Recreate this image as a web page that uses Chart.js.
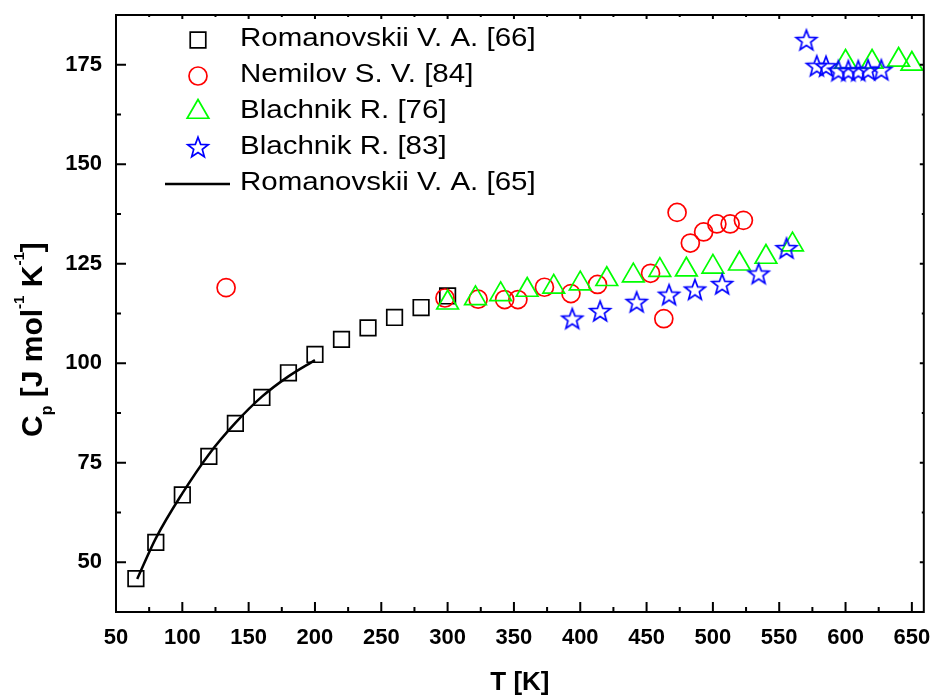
<!DOCTYPE html>
<html>
<head>
<meta charset="utf-8">
<title>Cp vs T</title>
<script src="https://cdn.jsdelivr.net/npm/chart.js@4.4.1/dist/chart.umd.min.js"></script>
<style>
  html, body { margin: 0; padding: 0; background: #fff; }
  #wrap { width: 938px; height: 700px; position: relative; }
</style>
</head>
<body>
<div id="wrap"><canvas id="cp-chart"></canvas></div>
<script>
// ============ DATA ============
const tempTicks = [50, 100, 150, 200, 250, 300, 350, 400, 450, 500, 550, 600, 650];
const cpTicks = [50, 75, 100, 125, 150, 175];

const seriesNames = ['Romanovskii V. A. [66]', 'Nemilov S. V. [84]', 'Blachnik R. [76]', 'Blachnik R. [83]', 'Romanovskii V. A. [65]'];

// Romanovskii V. A. [66] - squares
const romT = [65, 80, 100, 120, 140, 160, 180, 200, 220, 240, 260, 280, 300];
const romCp = [45.9, 55.0, 66.9, 76.6, 84.9, 91.4, 97.6, 102.2, 106.0, 108.9, 111.5, 114.0, 116.9];

// Nemilov S. V. [84] - circles
const nemT = [133, 298, 323, 343, 353, 373, 393, 413, 453, 463, 473, 483, 493, 503, 513, 523];
const nemCp = [119.0, 116.4, 116.1, 116.0, 116.0, 119.1, 117.5, 119.8, 122.6, 111.2, 137.9, 130.2, 133.0, 135.0, 135.0, 135.9];

// Blachnik R. [76] - triangles
const bl76T = [300, 321, 340, 360, 380, 400, 420, 440, 460, 480, 500, 520, 540, 560, 600, 620, 640, 650];
const bl76Cp = [115.2, 116.3, 117.3, 118.4, 119.2, 120.0, 121.1, 122.0, 123.4, 123.5, 124.2, 125.0, 126.7, 129.8, 175.7, 175.7, 176.2, 175.2];

// Blachnik R. [83] - stars
const bl83T = [394, 415, 442.5, 467, 486.5, 507, 534.5, 555.5, 570.5, 578.3, 585.3, 594.6, 602.1, 609.6, 617, 627];
const bl83Cp = [111.0, 112.9, 115.2, 117.0, 118.3, 119.7, 122.3, 128.7, 181.0, 174.5, 174.4, 173.3, 173.3, 173.3, 173.5, 173.5];

// Romanovskii V. A. [65] - fitted curve
const fitT = [66, 80, 100, 120, 140, 160, 180, 200];
const fitCp = [45.8, 56.0, 67.3, 77.1, 85.0, 91.6, 96.7, 100.8];

const FONT = '"Liberation Sans", Arial, Helvetica, sans-serif';

function pts(xs, ys) { return xs.map((x, i) => ({ x, y: ys[i] })); }

// ============ STAR MARKER ============
function makeStar(R, color, lw) {
  const c = document.createElement('canvas');
  const s = Math.ceil(2 * R + lw + 4);
  c.width = c.height = s;
  const g = c.getContext('2d');
  const cx = s / 2, cy = s / 2;
  g.beginPath();
  for (let i = 0; i < 10; i++) {
    const r = i % 2 ? R * 0.42 : R;
    const a = -Math.PI / 2 + i * Math.PI / 5;
    g.lineTo(cx + r * Math.cos(a), cy + r * Math.sin(a));
  }
  g.closePath();
  g.strokeStyle = color;
  g.lineWidth = lw;
  g.stroke();
  return c;
}
const starImg = makeStar(10.8, '#0000ff', 1.7);

// no extra label padding, so the plot box sits where the layout padding says
function noScalePadding(s) {
  s.paddingTop = 0; s.paddingBottom = 0; s.paddingLeft = 0; s.paddingRight = 0;
}

// ============ FRAME, TICKS, Y TITLE, LEGEND ============
const decorations = {
  id: 'decorations',
  afterDraw(chart) {
    const { ctx, chartArea: a, scales: { x, y } } = chart;
    ctx.save();
    ctx.strokeStyle = '#000';
    ctx.lineWidth = 2;
    ctx.strokeRect(a.left, a.top, a.right - a.left, a.bottom - a.top);

    // inward ticks
    ctx.beginPath();
    tempTicks.forEach(v => {
      const px = x.getPixelForValue(v);
      ctx.moveTo(px, a.bottom); ctx.lineTo(px, a.bottom - 10);
      ctx.moveTo(px, a.top); ctx.lineTo(px, a.top + 4);
      const m = v + 25;
      if (m < x.max) {
        const pm = x.getPixelForValue(m);
        ctx.moveTo(pm, a.bottom); ctx.lineTo(pm, a.bottom - 5);
        ctx.moveTo(pm, a.top); ctx.lineTo(pm, a.top + 2);
      }
    });
    cpTicks.forEach(v => {
      const py = y.getPixelForValue(v);
      ctx.moveTo(a.left, py); ctx.lineTo(a.left + 10, py);
      ctx.moveTo(a.right, py); ctx.lineTo(a.right - 4, py);
      [v - 12.5, v + 12.5].forEach(m => {
        if (m > y.min && m < y.max) {
          const pm = y.getPixelForValue(m);
          ctx.moveTo(a.left, pm); ctx.lineTo(a.left + 5, pm);
          ctx.moveTo(a.right, pm); ctx.lineTo(a.right - 2, pm);
        }
      });
    });
    ctx.stroke();

    // y title with sub/superscripts
    ctx.save();
    ctx.translate(41.5, 437);
    ctx.rotate(-Math.PI / 2);
    ctx.fillStyle = '#000';
    ctx.textAlign = 'left';
    ctx.textBaseline = 'alphabetic';
    const big = 'bold 30px ' + FONT, sm = 'bold 15px ' + FONT;
    const runs = [['C', big, 0], ['p', 'bold 16px ' + FONT, 10], [' [J mol', big, 0], ['-1', sm, -18], [' K', big, 0], ['-1', sm, -18], [']', big, 0]];
    let u = 0;
    runs.forEach(([t, f, dv]) => { ctx.font = f; ctx.fillText(t, u, dv); u += ctx.measureText(t).width; });
    ctx.restore();

    // legend inside plot
    chart.data.datasets.forEach((d, i) => {
      const ry = 39 + 36 * i;
      ctx.strokeStyle = d.borderColor;
      ctx.fillStyle = 'rgba(0,0,0,0)';
      if (d.showLine) {
        ctx.lineWidth = d.borderWidth;
        ctx.beginPath(); ctx.moveTo(165, ry + 1); ctx.lineTo(230, ry + 1); ctx.stroke();
      } else {
        ctx.lineWidth = d.pointBorderWidth;
        Chart.helpers.drawPoint(ctx, { pointStyle: d.pointStyle, radius: d.pointRadius, borderWidth: d.pointBorderWidth, rotation: 0 }, 198, ry + 1);
      }
      ctx.save();
      ctx.translate(240, ry);
      ctx.scale(1.18, 1);
      ctx.fillStyle = '#000';
      ctx.font = '25px ' + FONT;
      ctx.textBaseline = 'middle';
      ctx.textAlign = 'left';
      ctx.fillText(seriesNames[i], 0, 0);
      ctx.restore();
    });
    ctx.restore();
  }
};

// ============ CHART ============
new Chart(document.getElementById('cp-chart'), {
  type: 'scatter',
  data: {
    datasets: [
      { label: seriesNames[0], data: pts(romT, romCp), pointStyle: 'rect', pointRadius: 11, pointBorderWidth: 1.7,
        borderColor: '#000000', pointBackgroundColor: 'rgba(0,0,0,0)', order: 5, clip: false },
      { label: seriesNames[1], data: pts(nemT, nemCp), pointStyle: 'circle', pointRadius: 9, pointBorderWidth: 1.7,
        borderColor: '#ff0000', pointBackgroundColor: 'rgba(0,0,0,0)', order: 4, clip: false },
      { label: seriesNames[2], data: pts(bl76T, bl76Cp), pointStyle: 'triangle', pointRadius: 12.5, pointBorderWidth: 1.7,
        borderColor: '#00ff00', pointBackgroundColor: 'rgba(0,0,0,0)', order: 3, clip: false },
      { label: seriesNames[3], data: pts(bl83T, bl83Cp), pointStyle: starImg, pointRadius: 10.8, pointBorderWidth: 1.7,
        borderColor: '#0000ff', pointBackgroundColor: 'rgba(0,0,0,0)', order: 2, clip: false },
      { label: seriesNames[4], data: pts(fitT, fitCp), showLine: true, pointRadius: 0, borderWidth: 2.5,
        borderColor: '#000000', cubicInterpolationMode: 'monotone', order: 1, clip: false }
    ]
  },
  options: {
    responsive: true,
    maintainAspectRatio: false,
    animation: false,
    devicePixelRatio: 1,
    layout: { padding: { top: 15, right: 9, left: 0, bottom: 0 } },
    plugins: { legend: { display: false }, tooltip: { enabled: false } },
    scales: {
      x: {
        type: 'linear', min: 50, max: 659,
        afterBuildTicks: s => { s.ticks = tempTicks.map(v => ({ value: v })); },
        afterFit: s => { s.height = 88; noScalePadding(s); },
        grid: { display: false, drawTicks: false },
        border: { display: false },
        ticks: { color: '#000', font: { family: FONT, size: 22, weight: 'bold' }, padding: 13, maxRotation: 0, autoSkip: false },
        title: { display: true, text: 'T [K]', color: '#000', font: { family: FONT, size: 26, weight: 'bold' }, padding: { top: 0, bottom: 2 } }
      },
      y: {
        type: 'linear', min: 37.5, max: 187.5,
        afterBuildTicks: s => { s.ticks = cpTicks.map(v => ({ value: v })); },
        afterFit: s => { s.width = 116; noScalePadding(s); },
        grid: { display: false, drawTicks: false },
        border: { display: false },
        ticks: { color: '#000', font: { family: FONT, size: 22, weight: 'bold' }, padding: 14 }
      }
    }
  },
  plugins: [decorations]
});
</script>
</body>
</html>
